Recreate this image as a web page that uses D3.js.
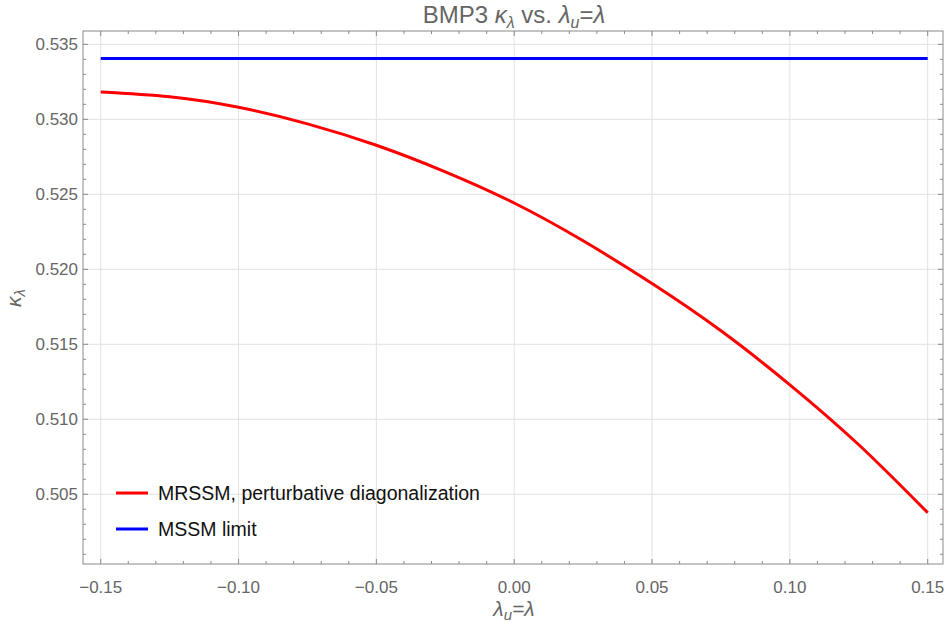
<!DOCTYPE html>
<html>
<head>
<meta charset="utf-8">
<script src="https://cdn.jsdelivr.net/npm/d3@7"></script>
<style>
  body { margin: 0; background: #fff; }
  text { font-family: "Liberation Sans", Arial, sans-serif; }
</style>
</head>
<body>
<div id="chart"></div>
<script>
// values
var lambdaVals = [-0.15, -0.125, -0.10, -0.075, -0.05, -0.025, 0.00, 0.025, 0.05, 0.075, 0.10, 0.125, 0.15];
var kappaMRSSM = [0.53182, 0.5315, 0.5308, 0.5297, 0.52827, 0.5265, 0.52442, 0.5219, 0.51905, 0.5159, 0.5123, 0.5083, 0.50377];
var kappaMSSM = [0.53405, 0.53405];
var mssmRange = [-0.15, 0.15];
var xTicks = [-0.15, -0.10, -0.05, 0.00, 0.05, 0.10, 0.15];
var yTicks = [0.505, 0.510, 0.515, 0.520, 0.525, 0.530, 0.535];
var legendNames = ["MRSSM, perturbative diagonalization", "MSSM limit"];
var colors = ["#ff0000", "#0000ff"];

var W = 948, H = 624;
var margin = { top: 31, left: 83, right: 5, bottom: 60 };
var width = W - margin.left - margin.right,
	height = H - margin.top - margin.bottom;

var svg = d3.select("#chart").append("svg")
	.attr("width", W)
	.attr("height", H);

var g = svg.append("g")
	.attr("transform", "translate(" + margin.left + "," + margin.top + ")");

var x = d3.scaleLinear().domain([-0.15642, 0.15555]).range([0, width]);
var y = d3.scaleLinear().domain([0.50035, 0.53589]).range([height, 0]);

// grid
g.selectAll(".vgrid").data(xTicks).enter().append("line")
	.attr("x1", d => x(d)).attr("x2", d => x(d))
	.attr("y1", 0).attr("y2", height)
	.attr("stroke", "#e2e2e2").attr("stroke-width", 1);
g.selectAll(".hgrid").data(yTicks).enter().append("line")
	.attr("y1", d => y(d)).attr("y2", d => y(d))
	.attr("x1", 0).attr("x2", width)
	.attr("stroke", "#e2e2e2").attr("stroke-width", 1);

// minor ticks
var xMinor = d3.range(-0.15, 0.1501, 0.01).filter(v => x(v) >= 0 && x(v) <= width);
var yMinor = d3.range(0.501, 0.5356, 0.001).filter(v => y(v) >= 0 && y(v) <= height);
var frameCol = "#8a8a8a";

function isMajor(v, list) { return list.some(t => Math.abs(t - v) < 1e-6); }

// ticks on all four sides, pointing inward
xMinor.forEach(function(v) {
	var len = isMajor(v, xTicks) ? 5 : 3;
	g.append("line").attr("x1", x(v)).attr("x2", x(v)).attr("y1", height).attr("y2", height - len)
		.attr("stroke", frameCol);
	g.append("line").attr("x1", x(v)).attr("x2", x(v)).attr("y1", 0).attr("y2", len)
		.attr("stroke", frameCol);
});
yMinor.forEach(function(v) {
	var len = isMajor(v, yTicks) ? 5 : 3;
	g.append("line").attr("y1", y(v)).attr("y2", y(v)).attr("x1", 0).attr("x2", len)
		.attr("stroke", frameCol);
	g.append("line").attr("y1", y(v)).attr("y2", y(v)).attr("x1", width).attr("x2", width - len)
		.attr("stroke", frameCol);
});

// frame
g.append("rect").attr("width", width).attr("height", height)
	.attr("fill", "none").attr("stroke", frameCol).attr("stroke-width", 1);

// tick labels
var fmt = d3.format(".2f"), fmtY = d3.format(".3f");
g.selectAll(".xlab").data(xTicks).enter().append("text")
	.attr("x", d => x(d)).attr("y", height + 29)
	.attr("text-anchor", "middle")
	.attr("font-size", 17).attr("fill", "#666")
	.text(d => fmt(d));
g.selectAll(".ylab").data(yTicks).enter().append("text")
	.attr("x", -5).attr("y", d => y(d) + 6)
	.attr("text-anchor", "end")
	.attr("font-size", 17).attr("fill", "#666")
	.text(d => fmtY(d));

// curves
var line = d3.line().x(d => x(d[0])).y(d => y(d[1])).curve(d3.curveNatural);
g.append("path")
	.datum(lambdaVals.map((v, i) => [v, kappaMRSSM[i]]))
	.attr("d", line).attr("fill", "none")
	.attr("stroke", colors[0]).attr("stroke-width", 3);
g.append("path")
	.datum(mssmRange.map((v, i) => [v, kappaMSSM[i]]))
	.attr("d", d3.line().x(d => x(d[0])).y(d => y(d[1])))
	.attr("fill", "none")
	.attr("stroke", colors[1]).attr("stroke-width", 3);

// legend
var leg = svg.append("g").attr("transform", "translate(116,493)");
legendNames.forEach(function(name, i) {
	leg.append("line").attr("x1", 0).attr("x2", 32).attr("y1", i * 36).attr("y2", i * 36)
		.attr("stroke", colors[i]).attr("stroke-width", 3);
	leg.append("text").attr("x", 42).attr("y", i * 36 + 7)
		.attr("font-size", 19.5).attr("fill", "#111").text(name);
});

// title
var title = svg.append("text").attr("x", 514).attr("y", 23)
	.attr("text-anchor", "middle").attr("font-size", 24).attr("fill", "#666");
title.append("tspan").text("BMP3 ");
title.append("tspan").attr("font-style", "italic").text("κ");
title.append("tspan").attr("font-style", "italic").attr("font-size", 16).attr("dy", 5).text("λ");
title.append("tspan").attr("dy", -5).text(" vs. ");
title.append("tspan").attr("font-style", "italic").text("λ");
title.append("tspan").attr("font-style", "italic").attr("font-size", 16).attr("dy", 5).text("u");
title.append("tspan").attr("dy", -5).text("=");
title.append("tspan").attr("font-style", "italic").text("λ");

// x-axis label
var xl = svg.append("text").attr("x", 514).attr("y", 616)
	.attr("text-anchor", "middle").attr("font-size", 21).attr("fill", "#666")
	.attr("font-style", "italic");
xl.append("tspan").text("λ");
xl.append("tspan").attr("font-size", 15).attr("dy", 4).text("u");
xl.append("tspan").attr("dy", -4).text("=λ");

// y-axis label
var yl = svg.append("text").attr("transform", "translate(21,298) rotate(-90)")
	.attr("text-anchor", "middle").attr("font-size", 21).attr("fill", "#666")
	.attr("font-style", "italic");
yl.append("tspan").text("κ");
yl.append("tspan").attr("font-size", 15).attr("dy", 4).text("λ");
</script>
</body>
</html>
